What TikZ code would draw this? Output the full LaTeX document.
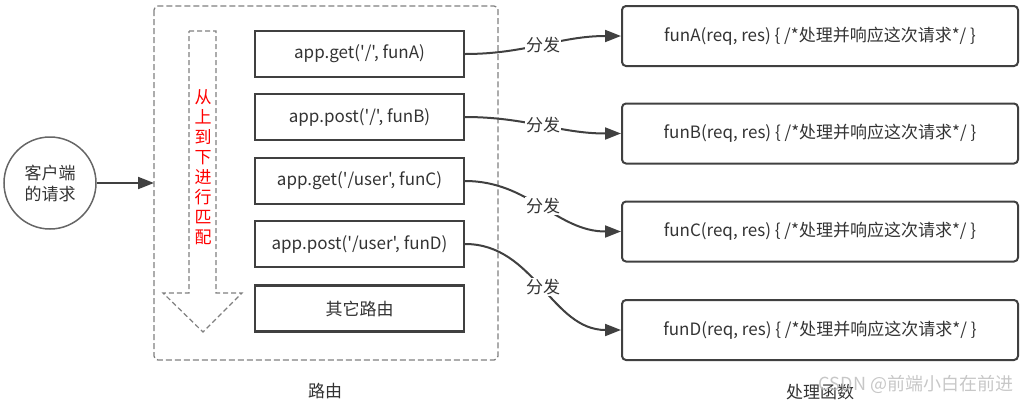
\documentclass[tikz,border=0pt]{standalone}
\usepackage{fontspec}
\setmainfont{Noto Sans CJK SC}[Ligatures=TeXOff]
\usetikzlibrary{arrows.meta}
\definecolor{ink}{HTML}{333333}
\definecolor{edgecol}{HTML}{404040}
\definecolor{dashcol}{HTML}{808080}
\tikzset{
  txt/.style={font=\fontsize{17}{20}\selectfont, text=ink},
  routebox/.style={txt, draw=edgecol, line width=2.2pt, minimum width=209pt, minimum height=46pt, inner sep=0pt},
  funbox/.style={txt, draw=edgecol, line width=2pt, rounded corners=4pt, minimum width=396pt, minimum height=60pt, inner sep=0pt},
  conn/.style={draw=edgecol, line width=2pt, -{Triangle[length=16pt,width=12pt]}},
  lab/.style={txt, fill=white, inner sep=1pt},
}
\begin{document}
\begin{tikzpicture}[x=1pt,y=-1pt]
\useasboundingbox (0,0) rectangle (1036,405);
% client
\node[font=\fontsize{17}{21}\selectfont, text=ink, circle, draw=dashcol!80!black, line width=1.5pt, minimum size=92pt, inner sep=0pt, align=center] (client) at (50,183) {客户端\\的请求};
% router frame
\draw[draw=dashcol, line width=1.3pt, dash pattern=on 6pt off 3pt, rounded corners=4pt] (154,6) rectangle (498,360);
\coordinate (frameW) at (154,183);
\draw[conn] (client.east) -- (frameW);
% dashed down arrow
\draw[draw=dashcol, line width=1.2pt, dash pattern=on 5pt off 3pt] (189,31) -- (216,31) -- (216,293) -- (242,293) -- (203,332) -- (163,293) -- (189,293) -- cycle;
\node[font=\fontsize{17}{20}\selectfont, text=red, align=center] (match) at (203,167) {从\\上\\到\\下\\进\\行\\匹\\配};
% route boxes
\node[routebox] (l1) at (359.5,54) {app.get('/', funA)};
\node[routebox] (l2) at (359.5,117) {app.post('/', funB)};
\node[routebox] (l3) at (359.5,181) {app.get('/user', funC)};
\node[routebox] (l4) at (359.5,244) {app.post('/user', funD)};
\node[routebox] (l5) at (359.5,308.5) {其它路由};
% function boxes
\node[funbox] (r1) at (820,36) {funA(req, res) \{ /*处理并响应这次请求*/ \}};
\node[funbox] (r2) at (820,133.5) {funB(req, res) \{ /*处理并响应这次请求*/ \}};
\node[funbox] (r3) at (820,231.5) {funC(req, res) \{ /*处理并响应这次请求*/ \}};
\node[funbox] (r4) at (820,330) {funD(req, res) \{ /*处理并响应这次请求*/ \}};
% connectors
\draw[conn] (l1.east) to[out=0,in=180] node[lab]{分发} (r1.west);
\draw[conn] (l2.east) to[out=0,in=180] node[lab]{分发} (r2.west);
\draw[conn] (l3.east) to[out=0,in=180] node[lab]{分发} (r3.west);
\draw[conn] (l4.east) to[out=0,in=180] node[lab]{分发} (r4.west);
% captions
\node[txt] (cap1) at (325,391) {路由};
\node[txt] (cap2) at (820,392) {处理函数};
\node[font=\fontsize{18}{20}\selectfont, text=gray!55, opacity=0.8] (wm) at (916,384) {CSDN @前端小白在前进};
\end{tikzpicture}
\end{document}
